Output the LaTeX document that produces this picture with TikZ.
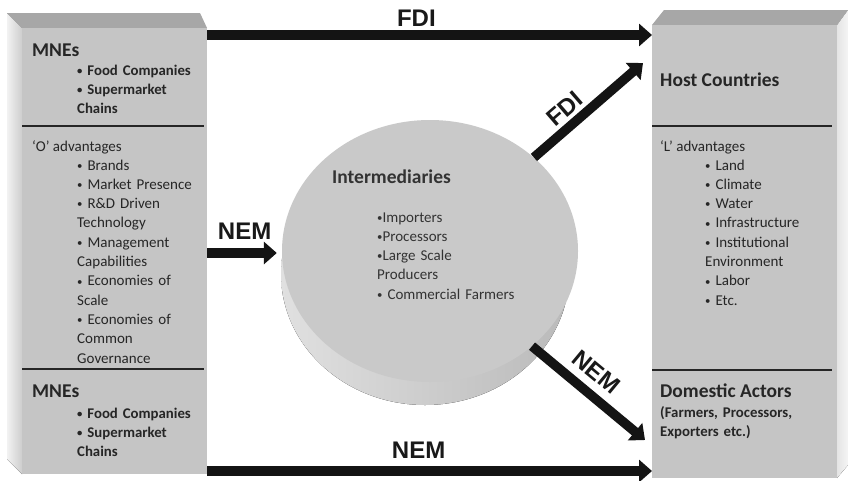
\documentclass[tikz,border=0pt]{standalone}
\usepackage{fontspec}
\usepackage{graphicx}
\setmainfont{Carlito}
\newfontfamily\arrowfont{Liberation Sans}
\usetikzlibrary{arrows.meta,shapes.geometric,calc}
\definecolor{facefront}{HTML}{C5C5C5}
\definecolor{facetop}{HTML}{A7A7A7}
\definecolor{faceside}{HTML}{E4E4E4}
\definecolor{ink}{HTML}{262626}
\definecolor{softink}{HTML}{333333}
\definecolor{disktop}{HTML}{C9C9C9}
\definecolor{rimlight}{HTML}{E0E0E0}
\definecolor{rimdark}{HTML}{BABABA}
% small centred list bullet
\newcommand{\bul}{\raisebox{0.1ex}{\scalebox{0.72}{•}}}
\begin{document}
\begin{tikzpicture}[x=1pt,y=-1pt,
  face/.style={draw=none,fill=facefront,inner sep=0pt,anchor=north west},
  divider/.style={draw=black!85,line width=2pt},
  head/.style={anchor=base west,inner sep=0pt,text=ink,
    font=\fontsize{19.5}{22}\selectfont\bfseries},
  subhead/.style={anchor=base west,inner sep=0pt,text=ink,
    font=\fontsize{15}{19.3}\selectfont},
  listtxt/.style={anchor=base west,inner sep=0pt,text=ink,align=left,
    text width=170pt,font=\fontsize{15}{19.3}\selectfont},
  boldlist/.style={listtxt,font=\fontsize{14.8}{19.2}\selectfont\bfseries},
  flow/.style={line width=9.5pt,draw=black!92,
    -{Triangle[length=13pt,width=22pt]}},
  flowlabel/.style={inner sep=0pt,text=black!90,
    font=\arrowfont\bfseries\fontsize{24}{24}\selectfont}]

\useasboundingbox[fill=white] (0,0) rectangle (848,480);

% ---------- left block: firms and their ownership advantages ----------
\fill[left color=white!95!black,right color=faceside!90!black]
  (7,13) -- (22,28) -- (22,474) -- (7,459) -- cycle;
\fill[facetop] (7,13) -- (200,13) -- (207,28) -- (22,28) -- cycle;
\node[face,minimum width=185pt,minimum height=446pt] (lbox) at (22,28) {};
\draw[divider] (lbox.west |- 0,126) -- (204,126);
\draw[divider] (lbox.west |- 0,369) -- (204,369);

\node[head] (mneA) at (32,56) {MNEs};
\node[boldlist] (mneAlist) at (77,75) {\bul{} Food Companies\\\bul{} Supermarket\\Chains};
\node[subhead] (oadv) at (32,151) {‘O’ advantages};
\node[listtxt] (oadvlist) at (77,170) {\bul{} Brands\\\bul{} Market Presence\\\bul{} R\&D Driven\\Technology\\\bul{} Management\\Capabilities\\\bul{} Economies of\\Scale\\\bul{} Economies of\\Common\\Governance};
\node[head] (mneB) at (32,397) {MNEs};
\node[boldlist] (mneBlist) at (77,418) {\bul{} Food Companies\\\bul{} Supermarket\\Chains};

% ---------- right block: host countries and domestic actors ----------
\fill[left color=faceside,right color=white!96!black]
  (837,25) -- (848,10) -- (848,465) -- (837,478) -- cycle;
\fill[facetop] (652,25) -- (664,10) -- (848,10) -- (837,25) -- cycle;
\node[face,minimum width=185pt,minimum height=453pt] (rbox) at (652,25) {};
\draw[divider] (rbox.west |- 0,126) -- (832,126);
\draw[divider] (rbox.west |- 0,370) -- (832,370);

\node[head] (host) at (660,86) {Host Countries};
\node[subhead] (ladv) at (660,151) {‘L’ advantages};
\node[listtxt] (ladvlist) at (705,170) {\bul{} Land\\\bul{} Climate\\\bul{} Water\\\bul{} Infrastructure\\\bul{} Institutional\\Environment\\\bul{} Labor\\\bul{} Etc.};
\node[head] (domestic) at (660,397) {Domestic Actors};
\node[boldlist] (domesticlist) at (660,417) {(Farmers, Processors,\\Exporters etc.)};

% ---------- centre disk: intermediaries ----------
% rim of the disk, seen at the lower left
\fill[left color=rimlight,right color=rimdark] (425,274) ellipse (144pt and 131pt);
\node[ellipse,draw=none,inner sep=0pt,minimum width=296pt,minimum height=262pt,
  fill=disktop] (mid) at (430,251) {};
\node[head,text=softink] (interm) at (332,183) {Intermediaries};
\node[listtxt,text=softink] (intermlist) at (377,222) {\bul{}Importers\\\bul{}Processors\\\bul{}Large Scale\\Producers\\\bul{} Commercial Farmers};

% ---------- flows ----------
\draw[flow] (lbox.east |- 0,35) -- (rbox.west |- 0,35)
  node[flowlabel,pos=0.47,above=4pt] (fdiTop) {FDI};
\draw[flow,shorten >=5pt] (lbox.east |- 0,253) -- (mid.west |- 0,253)
  node[flowlabel,midway,above=9pt] (nemLeft) {NEM};
\coordinate (fdiEnd) at (643,63);
\draw[flow] (mid.42) -- (fdiEnd)
  node[flowlabel,sloped,pos=0.38,above=4pt] (fdiDiag) {FDI};
\coordinate (nemEnd) at (645,440);
\draw[flow] (mid.-43) -- (nemEnd)
  node[flowlabel,sloped,pos=0.45,above=8pt] (nemDiag) {NEM};
\draw[flow] (lbox.east |- 0,471) -- (rbox.west |- 0,471)
  node[flowlabel,pos=0.475,above=8pt] (nemBottom) {NEM};
\end{tikzpicture}
\end{document}
